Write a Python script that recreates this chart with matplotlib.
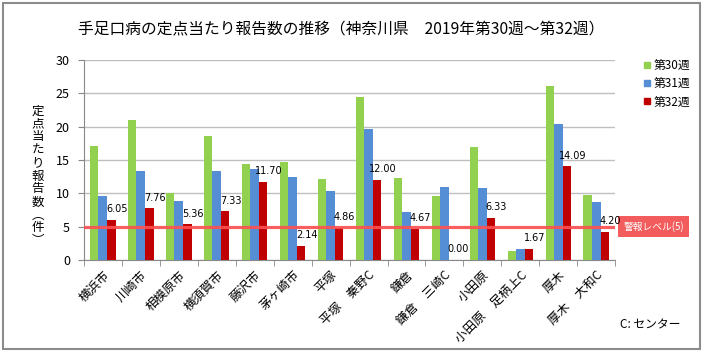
import numpy as np
import matplotlib

matplotlib.use('Agg')
import matplotlib.pyplot as plt
from matplotlib.lines import Line2D
from matplotlib.patches import Rectangle
from matplotlib.transforms import blended_transform_factory

plt.rcParams['font.family'] = ['Noto Sans CJK JP', 'DejaVu Sans']

title = "手足口病の定点当たり報告数の推移（神奈川県　2019年第30週～第32週）"

areas = ["横浜市", "川崎市", "相模原市", "横須賀市", "藤沢市", "茅ヶ崎市", "平塚",
         "平塚　秦野C", "鎌倉", "鎌倉　三崎C", "小田原", "小田原　足柄上C", "厚木", "厚木　大和C"]

week30 = [17.1, 21.0, 10.1, 18.6, 14.4, 14.7, 12.15, 24.5, 12.35, 9.6, 16.95, 1.4, 26.05, 9.75]
week31 = [9.65, 13.3, 8.85, 13.3, 13.6, 12.5, 10.3, 19.65, 7.2, 10.95, 10.85, 1.65, 20.4, 8.65]
week32 = [6.05, 7.76, 5.36, 7.33, 11.70, 2.14, 4.86, 12.00, 4.67, 0.00, 6.33, 1.67, 14.09, 4.20]

series_names = ["第30週", "第31週", "第32週"]
warning_level = 5

colors = ['#92D050', '#558ED5', '#C00000']

fig = plt.figure(figsize=(7.04, 3.53), dpi=100)
ax = fig.add_axes([0.119, 0.2635, 0.755, 0.5665])

x = np.arange(len(areas))
w = 0.225
for i, (vals, c) in enumerate(zip([week30, week31, week32], colors)):
    ax.bar(x + (i - 1) * w, vals, width=w, color=c, zorder=3)

# data labels for week 32
for xi, v in zip(x, week32):
    ax.annotate(f"{v:.2f}", (xi + w, v), xytext=(4, 4), textcoords='offset points',
                ha='center', va='bottom', fontsize=7, family='DejaVu Sans', zorder=5)

# warning line
ax.axhline(warning_level, color='#FF5050', lw=2.3, alpha=0.9, zorder=4)
tr = blended_transform_factory(ax.transAxes, ax.transData)
ax.text(1.072, warning_level, "警報レベル(5)", transform=tr, ha='center', va='center',
        fontsize=7, color='white', clip_on=False,
        bbox=dict(boxstyle='square,pad=0.5', facecolor='#F25C5C', edgecolor='none'))

ax.set_ylim(0, 30)
ax.set_xlim(-0.5, len(areas) - 0.5)
ax.set_yticks(np.arange(0, 31, 5))
ax.yaxis.grid(True, color='#BFBFBF', lw=1.0, zorder=0)
ax.set_axisbelow(True)

ax.set_xticks(x)
ax.set_xticklabels(areas, rotation=45, ha='right', rotation_mode='anchor', fontsize=9)
ax.set_xticks(np.arange(-0.5, len(areas), 1), minor=True)
ax.tick_params(axis='x', which='major', length=0, pad=6)
ax.tick_params(axis='x', which='minor', length=4, color='#888888')
ax.tick_params(axis='y', length=4, color='#888888', labelsize=9, pad=6)

for s in ['top', 'right']:
    ax.spines[s].set_visible(False)
for s in ['left', 'bottom']:
    ax.spines[s].set_color('#888888')

ylabel = "定点当たり報告数︵件︶"
fig.text(38 / 704, 1 - 176 / 353, "\n".join(ylabel), ha='center', va='center',
         fontsize=9, linespacing=1.0)

fig.text(341 / 704, 1 - 30 / 353, title, ha='center', va='center', fontsize=11.3)

handles = [Line2D([], [], marker='s', ls='none', color=c, markersize=4.5) for c in colors]
fig.legend(handles, series_names, loc='upper left', bbox_to_anchor=(636 / 704, 1 - 53 / 353),
           frameon=False, fontsize=8.5, handlelength=0.8, handletextpad=0.15,
           labelspacing=0.45, borderpad=0)

fig.text(620 / 704, 1 - 325 / 353, "C: センター", ha='left', va='center', fontsize=8.5)

fig.patches.append(Rectangle((3 / 704, 4 / 353), 697 / 704, 346 / 353, transform=fig.transFigure,
                             fill=False, edgecolor='#8C8C8C', lw=1.5))

plt.savefig("out.png", dpi=100)
